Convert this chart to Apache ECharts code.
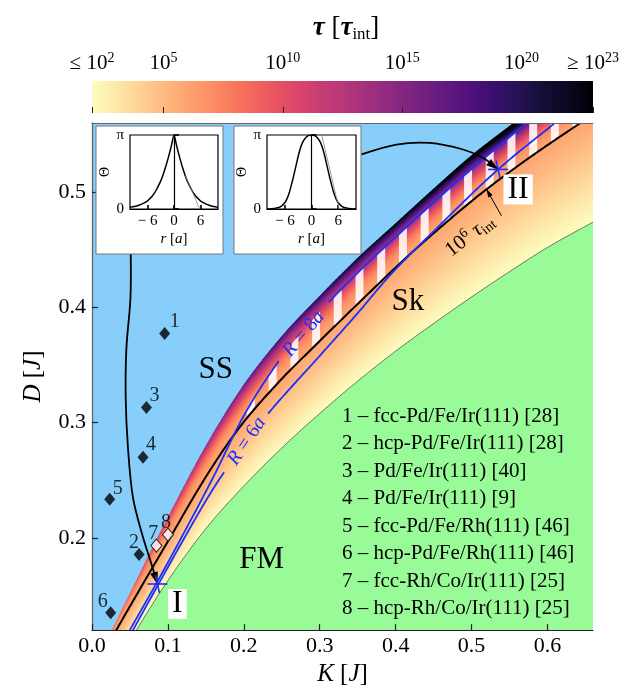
<!DOCTYPE html>
<html><head><meta charset="utf-8">
<script src="https://cdn.jsdelivr.net/npm/echarts@6/dist/echarts.min.js"></script>
<style>html,body{margin:0;padding:0;background:#fff}#c{width:640px;height:692px}</style>
</head><body><div id="c"></div>
<script>
// ---------------- data ----------------
// SS / Sk boundary (upper edge of coloured band)
const ssEdgeK = [0.0, 0.026, 0.05, 0.08, 0.1, 0.15, 0.2, 0.25, 0.3, 0.35, 0.4, 0.45, 0.5, 0.555, 0.6, 0.66];
const ssEdgeD = [0.086, 0.12, 0.152, 0.192, 0.218, 0.28, 0.333, 0.375, 0.41, 0.443, 0.473, 0.503, 0.532, 0.56, 0.583, 0.612];
// lifetime (log10 tau) reached at the SS edge
const ssEdgeTauK = [0, 0.05, 0.1, 0.15, 0.2, 0.3, 0.4, 0.5, 0.6, 0.66];
const ssEdgeLogTau = [7.5, 9.5, 11.5, 14, 16.5, 20, 23, 25.5, 27, 28];
// Sk / FM boundary
const fmEdgeK = [0.02, 0.0585, 0.1, 0.15, 0.2, 0.25, 0.3, 0.35, 0.4, 0.45, 0.5, 0.55, 0.6, 0.66];
const fmEdgeD = [0.077, 0.12, 0.163, 0.208, 0.245, 0.278, 0.308, 0.336, 0.362, 0.386, 0.409, 0.431, 0.452, 0.474];
// 10^6 tau_int contour (black line)
const tau6K = [0, 0.032, 0.067, 0.1, 0.15, 0.1945, 0.25, 0.291, 0.35, 0.412, 0.46, 0.511, 0.57, 0.64, 0.66];
const tau6D = [0.083, 0.12, 0.16, 0.197, 0.253, 0.296, 0.338, 0.365, 0.403, 0.442, 0.47, 0.498, 0.527, 0.5585, 0.567];
// skyrmion radius contours
const r8K = [0.02, 0.0498, 0.086, 0.12, 0.16, 0.2, 0.25, 0.3, 0.35, 0.4, 0.45, 0.5, 0.572, 0.62];
const r8D = [0.085, 0.12, 0.162, 0.203, 0.253, 0.306, 0.357, 0.396, 0.43, 0.461, 0.491, 0.52, 0.56, 0.587];
const r6K = [0.025, 0.054, 0.086, 0.12, 0.16, 0.2, 0.2335, 0.3, 0.35, 0.392, 0.45, 0.535, 0.607, 0.66];
const r6D = [0.085, 0.12, 0.158, 0.198, 0.243, 0.281, 0.309, 0.358, 0.395, 0.4275, 0.466, 0.5197, 0.5585, 0.586];
// materials
const materialIds = ['1', '2', '3', '4', '5', '6', '7', '8'];
const materialK = [0.0957, 0.062, 0.0717, 0.0672, 0.0233, 0.0246, 0.0848, 0.1001];
const materialD = [0.3774, 0.1855, 0.3132, 0.27, 0.2335, 0.1351, 0.1933, 0.2028];
const materialOpen = [false, false, false, false, false, false, true, true];
const materialNames = ['fcc-Pd/Fe/Ir(111) [28]', 'hcp-Pd/Fe/Ir(111) [28]', 'Pd/Fe/Ir(111) [40]', 'Pd/Fe/Ir(111) [9]',
  'fcc-Pd/Fe/Rh(111) [46]', 'hcp-Pd/Fe/Rh(111) [46]', 'fcc-Rh/Co/Ir(111) [25]', 'hcp-Rh/Co/Ir(111) [25]'];
// highlighted states I and II
const stateK = [0.0862, 0.535];
const stateD = [0.160, 0.5197];
const stateNames = ['I', 'II'];
// inset profiles Theta(r) in units of pi
const insetR = [-10,-9,-8,-7,-6,-5.5,-5,-4.5,-4,-3.5,-3,-2.5,-2,-1.5,-1,-0.5,0,0.5,1,1.5,2,2.5,3,3.5,4,4.5,5,5.5,6,7,8,9,10];
const inset1Theta = [0.022,0.033,0.05,0.075,0.11,0.14,0.17,0.21,0.26,0.32,0.38,0.46,0.55,0.65,0.76,0.88,1.0,0.88,0.76,0.65,0.55,0.46,0.38,0.32,0.26,0.21,0.17,0.14,0.11,0.075,0.05,0.033,0.022];
const inset2Theta = [0,0.004,0.012,0.03,0.085,0.14,0.22,0.33,0.45,0.58,0.71,0.82,0.9,0.95,0.98,0.995,1.0,0.995,0.98,0.95,0.9,0.82,0.71,0.58,0.45,0.33,0.22,0.14,0.085,0.03,0.012,0.004,0];
const inset1TangentR = [2.6, 5.85];  const inset1TangentT = [0.45, 0];
const inset2TangentR = [2.3, 6.2];   const inset2TangentT = [1.0, 0];
// ticks
const xTicks = [0, 0.1, 0.2, 0.3, 0.4, 0.5, 0.6];
const yTicks = [0.2, 0.3, 0.4, 0.5];
const insetTicks = [-6, 0, 6];
const colorbarTicks = [2, 5, 10, 15, 20, 23];
// magma colormap, 0 -> 1 in steps of 0.05
const magma = ['#000004','#0a0822','#140e36','#251255','#3b0f70','#51127c','#641a80','#782281','#8c2981','#a1307e',
  '#b73779','#ca3e72','#de4968','#ed5a5f','#f7705c','#fc8961','#fe9f6d','#feb77e','#fecf92','#fde7a9','#fcfdbf'];
// annotation curves (arrows)
const arrowIK = [0.051, 0.0506, 0.0453, 0.0444, 0.0474, 0.054, 0.0672, 0.0783, 0.0862];
const arrowID = [0.4472, 0.4075, 0.3644, 0.3212, 0.2781, 0.2349, 0.2005, 0.1774, 0.160];
const arrowIIK = [0.355, 0.401, 0.445, 0.4888, 0.515, 0.535];
const arrowIID = [0.5327, 0.5413, 0.5427, 0.537, 0.5298, 0.5197];

// ---------------- layout / style (not data) ----------------
const SERIF = "'Liberation Serif','Times New Roman',serif";
const BLUE = '#1a30ff';
const TAU_PROFILE_POWER = 2.2;
const labelOffsets = [[10,-12],[-5,-12],[8,-12],[8,-12],[8,-11],[-8,-11],[-3,-12],[-2,-12]];
const regionLabels = [{t:'SS', at:[0.163,0.346]}, {t:'Sk', at:[0.416,0.405]}, {t:'FM', at:[0.2236,0.181]}];
const rLabels = [{t:'{i|R} = 8{i|a}', at:[0.279,0.377], rot:50, gap:[0.247,0.311], curve:'r8'},
                 {t:'{i|R} = 6{i|a}', at:[0.204,0.284], rot:56, gap:[0.176,0.232], curve:'r6'}];
const tauNote = {at:[0.4976,0.4622], rot:38, arrowFromK:0.5394, arrowFromD:0.4795, arrowToK:0.5197};
const stripe = {phase:0.4954, period:0.0286, width:0.0105};

// ---------------- helpers ----------------
function mono(xs, ys) {
  const n = xs.length, d = [], m = [];
  for (let i = 0; i < n - 1; i++) d[i] = (ys[i+1]-ys[i])/(xs[i+1]-xs[i]);
  m[0] = d[0]; m[n-1] = d[n-2];
  for (let i = 1; i < n - 1; i++) m[i] = d[i-1]*d[i] <= 0 ? 0 : (d[i-1]+d[i])/2;
  for (let i = 0; i < n - 1; i++) {
    if (d[i] === 0) { m[i] = 0; m[i+1] = 0; continue; }
    const a = m[i]/d[i], b = m[i+1]/d[i], s = a*a + b*b;
    if (s > 9) { const t = 3/Math.sqrt(s); m[i] = t*a*d[i]; m[i+1] = t*b*d[i]; }
  }
  return function (x) {
    if (x <= xs[0]) return ys[0] + d[0]*(x-xs[0]);
    if (x >= xs[n-1]) return ys[n-1] + d[n-2]*(x-xs[n-1]);
    let i = 0; while (x > xs[i+1]) i++;
    const h = xs[i+1]-xs[i], t = (x-xs[i])/h, t2 = t*t, t3 = t2*t;
    return (2*t3-3*t2+1)*ys[i] + (t3-2*t2+t)*h*m[i] + (-2*t3+3*t2)*ys[i+1] + (t3-t2)*h*m[i+1];
  };
}
const fA = mono(ssEdgeK, ssEdgeD), fE = mono(fmEdgeK, fmEdgeD), fL = mono(tau6K, tau6D);
const fR8 = mono(r8K, r8D), fR6 = mono(r6K, r6D), fTau = mono(ssEdgeTauK, ssEdgeLogTau);
const curves = {r8: fR8, r6: fR6};

function hex2rgb(h) { return [parseInt(h.slice(1,3),16), parseInt(h.slice(3,5),16), parseInt(h.slice(5,7),16)]; }
const magmaRGB = magma.map(hex2rgb);
function magmaAt(f) {
  f = Math.max(0, Math.min(1, f)) * 20;
  const i = Math.min(19, Math.floor(f)), t = f - i;
  const a = magmaRGB[i], b = magmaRGB[i+1];
  return 'rgb(' + [0,1,2].map(j => Math.round(a[j] + (b[j]-a[j])*t)).join(',') + ')';
}
function tauColor(logTau) { return magmaAt(1 - (logTau - 2) / 21); }

function polyCurve(api, f, k0, k1, gaps, style) {
  const out = []; let pts = [];
  for (let k = k0; k <= k1 + 1e-9; k += 0.002) {
    const inGap = gaps && k > gaps[0] && k < gaps[1];
    if (inGap) { if (pts.length > 1) out.push(pts); pts = []; continue; }
    pts.push(api.coord([k, f(k)]));
  }
  if (pts.length > 1) out.push(pts);
  return out.map(p => ({type:'polyline', shape:{points:p}, style:Object.assign({fill:null}, style)}));
}
function arrowHead(tip, from, len, wid) {
  const dx = tip[0]-from[0], dy = tip[1]-from[1], L = Math.hypot(dx, dy), ux = dx/L, uy = dy/L;
  const b = [tip[0]-ux*len, tip[1]-uy*len];
  return {type:'polygon', shape:{points:[tip, [b[0]-uy*wid/2, b[1]+ux*wid/2], [b[0]+uy*wid/2, b[1]-ux*wid/2]]}, style:{fill:'#000'}};
}
function supRich(size) {
  return {
    t: {fontSize:size, fontFamily:SERIF, color:'#000', fill:'#000', lineHeight:size+4},
    s: {fontSize:Math.round(size*0.68), fontFamily:SERIF, color:'#000', fill:'#000', verticalAlign:'top', lineHeight:Math.round(size*0.68)},
    i: {fontSize:size, fontFamily:SERIF, fontStyle:'italic', color:'#000', fill:'#000', lineHeight:size+4},
    b: {fontSize:Math.round(size*0.68), fontFamily:SERIF, color:'#000', fill:'#000', verticalAlign:'bottom', lineHeight:Math.round(size*0.68)}
  };
}
function baseCustom(z, render, extra) {
  return Object.assign({type:'custom', xAxisIndex:0, yAxisIndex:0, z:z, clip:true, silent:true,
    data:[[0.3, 0.3]], encode:{x:0, y:1}, renderItem:render}, extra || {});
}

// ---------------- series renderers ----------------
function renderGreen(params, api) {
  const pts = [];
  for (let k = 0; k <= 0.662; k += 0.002) pts.push(api.coord([k, fE(k)]));
  pts.push(api.coord([0.662, 0.1])); pts.push(api.coord([0, 0.1]));
  return {type:'polygon', shape:{points:pts}, style:{fill:'#98fb98'}};
}
function renderBand(params, api) {
  const children = [], step = 0.002;
  for (let k = 0; k < 0.662; k += step) {
    const k0 = k, k1 = k + step*1.7, kc = k + step*0.5;
    const pts = [api.coord([k0, fE(k0)]), api.coord([k1, fE(k1)]), api.coord([k1, fA(k1)]), api.coord([k0, fA(k0)])];
    const yE = api.coord([kc, fE(kc)])[1], yL = api.coord([kc, fL(kc)])[1], yA = api.coord([kc, fA(kc)])[1];
    const oL = Math.max(0.01, Math.min(0.99, (yE - yL) / (yE - yA)));
    const av = fTau(kc), stops = [];
    for (let j = 0; j <= 4; j++) stops.push({offset: oL*j/4, color: tauColor(2 + 4*j/4)});
    for (let j = 1; j <= 16; j++) {
      const s = j/16;
      stops.push({offset: oL + (1-oL)*s, color: tauColor(6 + (av-6)*Math.pow(s, TAU_PROFILE_POWER))});
    }
    children.push({type:'polygon', shape:{points:pts},
      style:{fill:{type:'linear', x:0, y:yE, x2:0, y2:yA, global:true, colorStops:stops}}});
  }
  return {type:'group', children};
}
function renderStripes(params, api) {
  const children = [];
  for (let n = -20; n <= 20; n++) {
    const kc = stripe.phase + n*stripe.period;
    if (kc < 0.15 || kc > 0.67) continue;
    const k0 = kc - stripe.width/2, k1 = kc + stripe.width/2, top = [], bot = [];
    let any = false;
    for (let j = 0; j <= 4; j++) {
      const k = k0 + (k1-k0)*j/4, lo = fL(k), hi = Math.max(fR8(k), lo);
      if (hi > lo) any = true;
      top.push(api.coord([k, hi])); bot.push(api.coord([k, lo]));
    }
    if (!any) continue;
    children.push({type:'polygon', shape:{points: top.concat(bot.reverse())}, style:{fill:'rgba(255,248,248,0.9)'}});
  }
  return {type:'group', children};
}
function renderLines(params, api) {
  let ch = [];
  ch = ch.concat(polyCurve(api, fE, 0, 0.662, null, {stroke:'#4d4d4d', lineWidth:0.8}));
  ch = ch.concat(polyCurve(api, fL, 0, 0.662, null, {stroke:'#000', lineWidth:2}));
  rLabels.forEach(l => {
    ch = ch.concat(polyCurve(api, curves[l.curve], 0.02, 0.662, l.gap, {stroke:BLUE, lineWidth:1.8}));
    const p = api.coord(l.at);
    ch.push({type:'text', x:p[0], y:p[1], rotation:l.rot*Math.PI/180,
      style:{text:l.t, fontSize:20, fontFamily:SERIF, fill:BLUE, align:'center', verticalAlign:'middle',
        rich:{i:{fontStyle:'italic', fontSize:20, fontFamily:SERIF, fill:BLUE, color:BLUE}}}});
  });
  return {type:'group', children:ch};
}
function renderAnnotations(params, api) {
  const ch = [];
  [[arrowIK, arrowID], [arrowIIK, arrowIID]].forEach(([ks, ds]) => {
    const pts = ks.map((k, i) => api.coord([k, ds[i]]));
    ch.push({type:'polyline', shape:{points:pts, smooth:0.35}, style:{stroke:'#000', lineWidth:1.8, fill:null}});
    ch.push(arrowHead(pts[pts.length-1], pts[pts.length-2], 12, 8));
  });
  const a0 = api.coord([tauNote.arrowFromK, tauNote.arrowFromD]);
  const a1 = api.coord([tauNote.arrowToK, fL(tauNote.arrowToK)]);
  ch.push({type:'line', shape:{x1:a0[0], y1:a0[1], x2:a1[0], y2:a1[1]}, style:{stroke:'#000', lineWidth:1}});
  ch.push(arrowHead(a1, a0, 8, 5));
  const tp = api.coord(tauNote.at);
  ch.push({type:'text', x:tp[0], y:tp[1], rotation:tauNote.rot*Math.PI/180,
    style:{text:'{t|10}{s|6}{i| τ}{b|int}', align:'center', verticalAlign:'middle', rich:supRich(21)}});
  regionLabels.forEach(r => {
    const p = api.coord(r.at);
    ch.push({type:'text', x:p[0], y:p[1], style:{text:r.t, fontSize:31, fontFamily:SERIF, fill:'#000', align:'center', verticalAlign:'middle'}});
  });
  stateK.forEach((k, i) => {
    const p = api.coord([k, stateD[i]]);
    ch.push({type:'line', shape:{x1:p[0]-10, y1:p[1], x2:p[0]+10, y2:p[1]}, style:{stroke:BLUE, lineWidth:1.6}});
    ch.push({type:'line', shape:{x1:p[0]-2, y1:p[1]-9, x2:p[0]+2, y2:p[1]+9}, style:{stroke:BLUE, lineWidth:1.6}});
    ch.push({type:'text', x:p[0]+20, y:p[1]+20, style:{text:stateNames[i], fontSize:32, fontFamily:SERIF, fill:'#000',
      align:'center', verticalAlign:'middle', backgroundColor:'#fff', padding:[0,4,-2,4]}});
  });
  return {type:'group', children:ch};
}
function renderColorbar(params, api) {
  const p0 = api.coord([colorbarTicks[0], 0]), p1 = api.coord([colorbarTicks[colorbarTicks.length-1], 1]);
  const stops = magma.map((c, i) => ({offset:i/20, color:magma[20-i]}));
  return {type:'rect', shape:{x:p0[0], y:p1[1], width:p1[0]-p0[0], height:p0[1]-p1[1]},
    style:{fill:{type:'linear', x:p0[0], y:0, x2:p1[0], y2:0, global:true, colorStops:stops}}};
}

// ---------------- option ----------------
const tickFont = {fontFamily:SERIF, fontSize:22, color:'#000'};
const insetFont = {fontFamily:SERIF, fontSize:15, color:'#000'};
function insetX(grid) {
  return {type:'value', gridIndex:grid, min:-10, max:10, z:22,
    axisLine:{lineStyle:{color:'#000', width:1.2}},
    axisTick:{inside:true, length:4, customValues:insetTicks, lineStyle:{color:'#000', width:1.6}},
    axisLabel:Object.assign({customValues:insetTicks, margin:5, formatter:v => v < 0 ? '− ' + (-v) : String(v)}, insetFont),
    splitLine:{show:false},
    name:'{i|r} [{i|a}]', nameLocation:'middle', nameGap:23,
    nameTextStyle:{fontFamily:SERIF, fontSize:15, color:'#000', rich:{i:{fontFamily:SERIF, fontSize:15, fontStyle:'italic', color:'#000'}}}};
}
function insetY(grid) {
  return {type:'value', gridIndex:grid, min:0, max:1, z:22,
    axisLine:{lineStyle:{color:'#000', width:1.2}},
    axisTick:{inside:true, length:5, customValues:[0, 1], lineStyle:{color:'#000', width:1.6}},
    axisLabel:Object.assign({customValues:[0, 1], margin:6, formatter:v => v === 1 ? 'π' : '0'}, insetFont),
    splitLine:{show:false},
    name:'Θ', nameLocation:'middle', nameGap:11, nameTextStyle:{fontFamily:SERIF, fontSize:14, color:'#000'}};
}
function pairs(xs, ys) { return xs.map((x, i) => [x, ys[i]]); }

const option = {
  animation:false,
  backgroundColor:'#fff',
  grid:[
    {left:92, top:123, width:501, height:510, show:true, backgroundColor:'#87cefa', borderWidth:0},
    {left:130, top:135, width:88, height:74, show:true, backgroundColor:'#fff', borderColor:'#000', borderWidth:1.2, z:21},
    {left:267, top:135, width:89, height:74, show:true, backgroundColor:'#fff', borderColor:'#000', borderWidth:1.2, z:21},
    {left:92, top:81, width:501, height:32}
  ],
  xAxis:[
    {type:'value', gridIndex:0, min:0, max:0.66, z:10,
      axisLine:{lineStyle:{color:'#222', width:1.2}},
      axisTick:{inside:true, length:6, customValues:xTicks, lineStyle:{color:'#222', width:1.2}},
      axisLabel:Object.assign({customValues:xTicks, margin:5, formatter:v => v.toFixed(1)}, tickFont),
      splitLine:{show:false},
      name:'{i|K} [{i|J}]', nameLocation:'middle', nameGap:29,
      nameTextStyle:{fontFamily:SERIF, fontSize:25, color:'#000', rich:{i:{fontFamily:SERIF, fontSize:25, fontStyle:'italic', color:'#000'}}}},
    {type:'value', gridIndex:0, min:0, max:0.66, position:'top', z:10,
      axisLine:{lineStyle:{color:'#666', width:1}}, axisTick:{show:false}, axisLabel:{show:false}, splitLine:{show:false}},
    insetX(1), insetX(2),
    {type:'value', gridIndex:3, min:2, max:23, position:'top', z:10,
      axisLine:{show:false},
      axisTick:{inside:false, length:6, customValues:colorbarTicks, lineStyle:{color:'#222', width:1}},
      axisLabel:{customValues:colorbarTicks, margin:5, rich:supRich(21),
        formatter:v => v === 2 ? '{t|≤ 10}{s|2}' : v === 23 ? '{t|≥ 10}{s|23}' : '{t|10}{s|' + v + '}'},
      splitLine:{show:false}}
  ],
  yAxis:[
    {type:'value', gridIndex:0, min:0.12, max:0.56, z:10,
      axisLine:{lineStyle:{color:'#222', width:1.2}},
      axisTick:{inside:true, length:6, customValues:yTicks, lineStyle:{color:'#222', width:1.2}},
      axisLabel:Object.assign({customValues:yTicks, margin:6, formatter:v => v.toFixed(1)}, tickFont),
      splitLine:{show:false},
      name:'{i|D} [{i|J}]', nameLocation:'middle', nameGap:46,
      nameTextStyle:{fontFamily:SERIF, fontSize:25, color:'#000', rich:{i:{fontFamily:SERIF, fontSize:25, fontStyle:'italic', color:'#000'}}}},
    {type:'value', gridIndex:0, min:0.12, max:0.56, position:'right', z:10,
      axisLine:{lineStyle:{color:'#666', width:1}}, axisTick:{show:false}, axisLabel:{show:false}, splitLine:{show:false}},
    insetY(1), insetY(2),
    {type:'value', gridIndex:3, min:0, max:1, show:false}
  ],
  graphic:{elements:[
    {type:'text', x:346, y:28, z:20, style:{text:'{i|τ} [{i|τ}{b|int}]', align:'center', verticalAlign:'middle',
      fontSize:27, fontFamily:SERIF, fill:'#000',
      rich:{i:{fontSize:27, fontFamily:SERIF, fontStyle:'italic', fontWeight:'bold', fill:'#000', color:'#000', lineHeight:30},
            b:{fontSize:17, fontFamily:SERIF, fill:'#000', color:'#000', verticalAlign:'bottom', lineHeight:17}}}},
    {type:'rect', z:20, shape:{x:96, y:126, width:127, height:128}, style:{fill:'#fff', stroke:'#777', lineWidth:1}},
    {type:'rect', z:20, shape:{x:234, y:126, width:127, height:128}, style:{fill:'#fff', stroke:'#777', lineWidth:1}}
  ].concat(materialIds.map((id, i) => ({type:'text', x:342, y:416 + 27.5*i, z:9,
    style:{text:id + ' – ' + materialNames[i], fontSize:21, fontFamily:SERIF, fill:'#000', align:'left', verticalAlign:'middle'}})))},
  series:[
    baseCustom(1, renderGreen),
    baseCustom(2, renderBand),
    baseCustom(3, renderStripes),
    baseCustom(4, renderLines),
    baseCustom(6, renderAnnotations),
    {type:'scatter', xAxisIndex:0, yAxisIndex:0, z:7, silent:true, symbol:'diamond', symbolSize:[11, 13],
      data:materialIds.map((id, i) => ({value:[materialK[i], materialD[i]],
        itemStyle:{color:materialOpen[i] ? '#fff' : '#000', borderColor:'#000', borderWidth:materialOpen[i] ? 1 : 0},
        label:{show:true, formatter:id, position:'inside', offset:labelOffsets[i], fontSize:20, fontFamily:SERIF, color:'#000'}}))},
    {type:'line', xAxisIndex:2, yAxisIndex:2, z:23, silent:true, showSymbol:false, smooth:0.25,
      data:pairs(insetR, inset1Theta), lineStyle:{color:'#000', width:1.5}},
    {type:'line', xAxisIndex:2, yAxisIndex:2, z:23, silent:true, showSymbol:false,
      data:pairs(inset1TangentR, inset1TangentT), lineStyle:{color:'#888', width:0.8}},
    {type:'line', xAxisIndex:3, yAxisIndex:3, z:23, silent:true, showSymbol:false, smooth:0.3,
      data:pairs(insetR, inset2Theta), lineStyle:{color:'#000', width:1.5}},
    {type:'line', xAxisIndex:3, yAxisIndex:3, z:23, silent:true, showSymbol:false,
      data:pairs(inset2TangentR, inset2TangentT), lineStyle:{color:'#888', width:0.8}},
    {type:'custom', xAxisIndex:4, yAxisIndex:4, z:2, silent:true, data:[[10, 0.5]], encode:{x:0, y:1}, renderItem:renderColorbar}
  ]
};
const chart = echarts.init(document.getElementById('c'), null, {renderer:'canvas'});
chart.setOption(option);
</script>
</body></html>
